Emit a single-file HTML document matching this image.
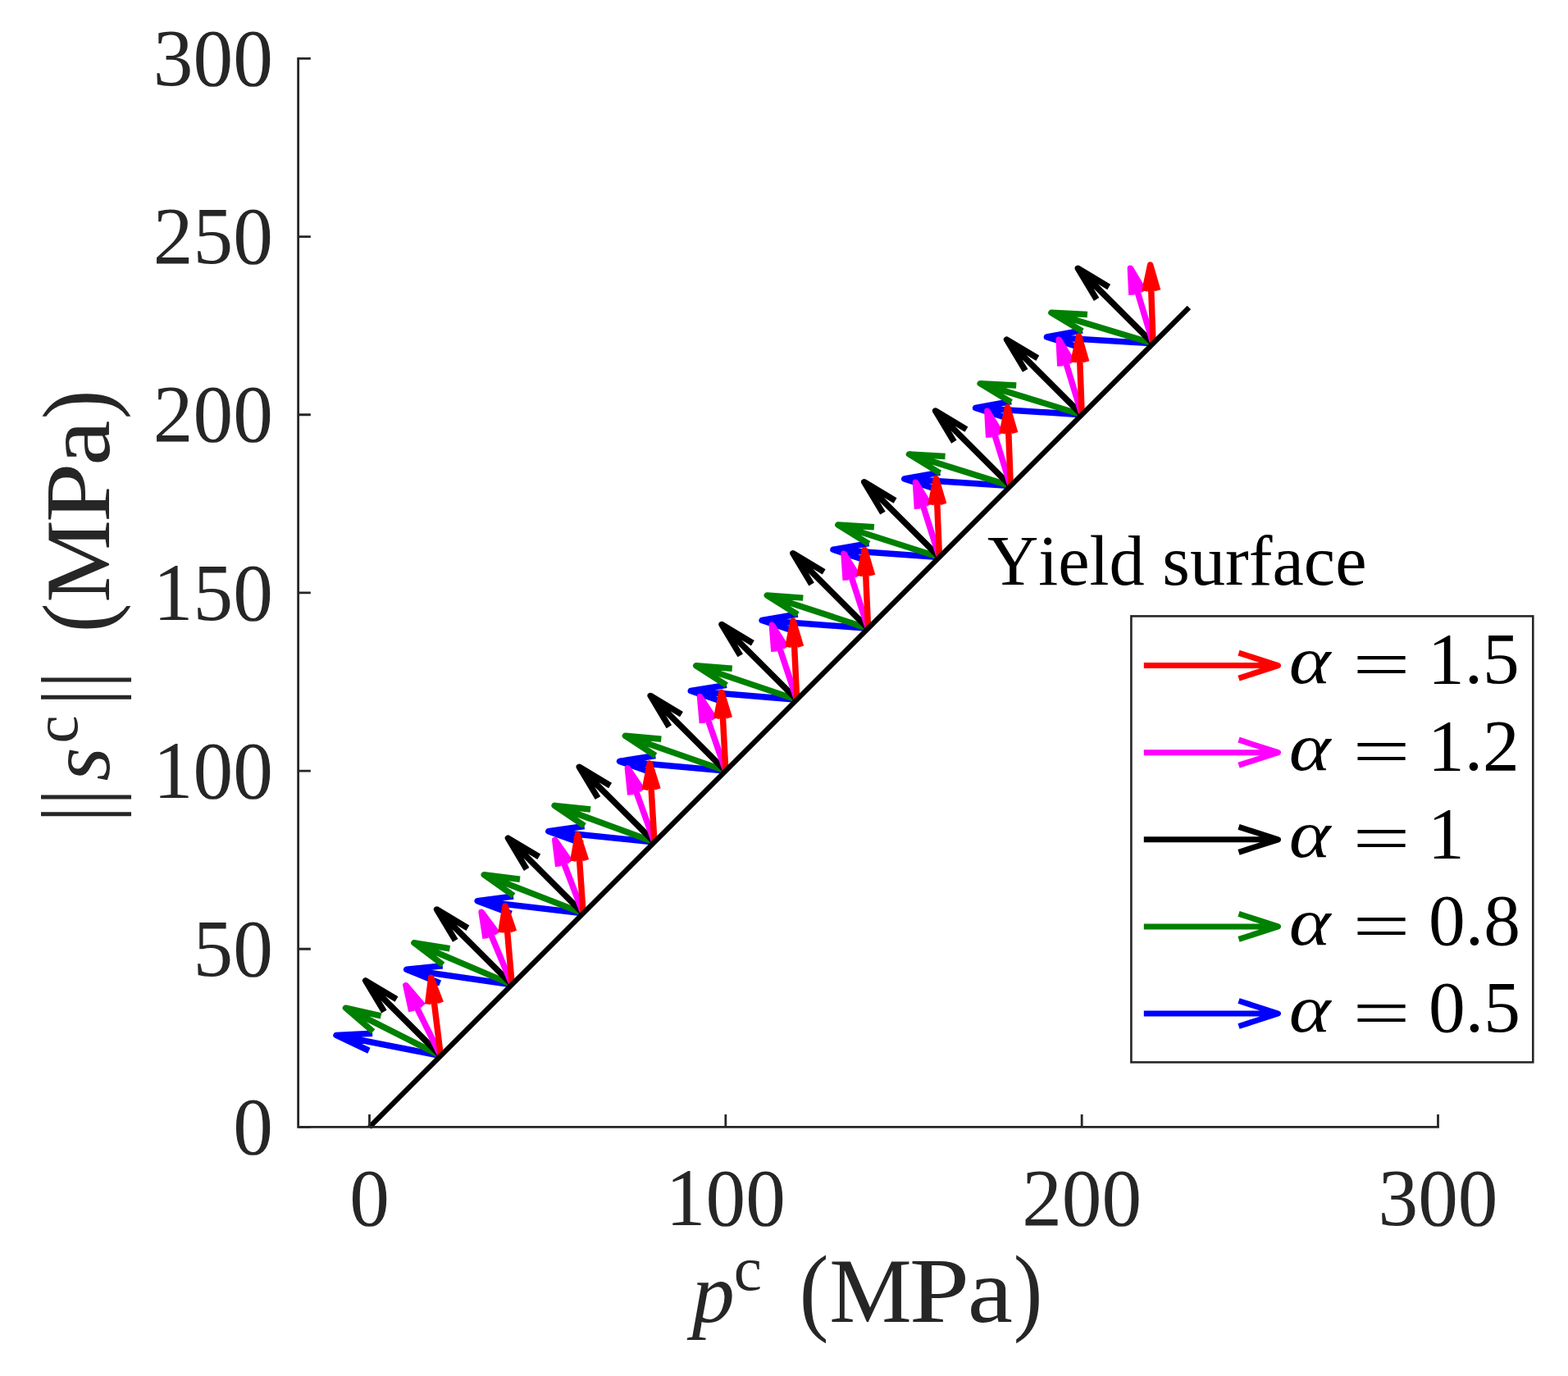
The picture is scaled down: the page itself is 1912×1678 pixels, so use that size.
<!DOCTYPE html>
<html><head><meta charset="utf-8"><title>Yield surface flow directions</title>
<style>html,body{margin:0;padding:0;background:#fff;overflow:hidden}svg{display:block}text{font-kerning:none}</style>
</head><body>
<svg width="1912" height="1678" viewBox="0 0 1912 1678" font-family="'Liberation Serif', serif">
<rect width="1912" height="1678" fill="#fff"/>
<path d="M537.37 1287.53L410.01 1262.47M449.97 1281.25L410.01 1262.47L454.1 1260.23M624.23 1200.67L495.75 1182.24M536.63 1198.92L495.75 1182.24L539.67 1177.72M711.1 1113.8L582.19 1098.64M623.48 1114.28L582.19 1098.64L625.98 1093.01M797.96 1026.94L668.83 1013.8M710.36 1028.79L668.83 1013.8L712.53 1007.48M884.83 940.07L755.56 928.35M797.25 942.88L755.56 928.35L799.19 921.55M971.7 853.2L842.34 842.53M884.14 856.73L842.34 842.53L885.9 835.38M1058.56 766.34L929.14 756.48M971.03 770.41L929.14 756.48L972.66 749.05M1145.43 679.47L1015.96 670.26M1057.92 683.98L1015.96 670.26L1059.44 662.62M1232.29 592.61L1102.78 583.92M1144.81 597.47L1102.78 583.92L1146.24 576.1M1319.16 505.74L1189.62 497.49M1231.69 510.9L1189.62 497.49L1233.05 489.53M1406.03 418.87L1276.47 411M1318.57 424.28L1276.47 411L1319.87 402.91" fill="none" stroke="#0000ff" stroke-width="7.5" stroke-linejoin="round" stroke-linecap="butt"/><path d="M537.37 1287.53L421.55 1229.15M454.95 1257.97L421.55 1229.15L464.59 1238.86M624.23 1200.67L504.94 1149.76M540.11 1176.4L504.94 1149.76L548.51 1156.72M711.1 1113.8L590.23 1066.75M626.24 1092.25L590.23 1066.75L634 1072.3M797.96 1026.94L676.16 982.37M712.68 1007.12L676.16 982.37L720.03 987.03M884.83 940.07L762.39 897.28M799.27 921.5L762.39 897.28L806.33 901.3M971.7 853.2L848.79 811.77M885.93 835.59L848.79 811.77L892.77 815.31M1058.56 766.34L935.3 725.99M972.65 749.47L935.3 725.99L979.3 729.13M1145.43 679.47L1021.88 640M1059.39 663.22L1021.88 640L1065.91 642.84M1232.29 592.61L1108.51 553.88M1146.16 576.87L1108.51 553.88L1152.56 556.44M1319.16 505.74L1195.18 467.64M1232.95 490.44L1195.18 467.64L1239.24 469.98M1406.03 418.87L1281.88 381.31M1319.75 403.95L1281.88 381.31L1325.95 383.47" fill="none" stroke="#008000" stroke-width="7.5" stroke-linejoin="round" stroke-linecap="butt"/><path d="M537.37 1287.53L445.72 1195.89M468.41 1233.69L445.72 1195.89L483.53 1218.57M624.23 1200.67L532.59 1109.03M555.27 1146.83L532.59 1109.03L570.39 1131.71M711.1 1113.8L619.46 1022.16M642.14 1059.96L619.46 1022.16L657.26 1044.84M797.96 1026.94L706.32 935.29M729 973.1L706.32 935.29L744.12 957.98M884.83 940.07L793.19 848.43M815.87 886.23L793.19 848.43L830.99 871.11M971.7 853.2L880.05 761.56M902.74 799.36L880.05 761.56L917.86 784.24M1058.56 766.34L966.92 674.7M989.6 712.5L966.92 674.7L1004.72 697.38M1145.43 679.47L1053.79 587.83M1076.47 625.63L1053.79 587.83L1091.59 610.51M1232.29 592.61L1140.65 500.96M1163.33 538.77L1140.65 500.96L1178.45 523.65M1319.16 505.74L1227.52 414.1M1250.2 451.9L1227.52 414.1L1265.32 436.78M1406.03 418.87L1314.38 327.23M1337.07 365.03L1314.38 327.23L1352.19 349.91" fill="none" stroke="#000000" stroke-width="7.5" stroke-linejoin="round" stroke-linecap="butt"/><path d="M537.37 1287.53L494.91 1201.65M501.84 1233.5L494.91 1201.65L516.01 1226.49M624.23 1200.67L587.16 1112.33M592.11 1144.54L587.16 1112.33L606.68 1138.42M711.1 1113.8L676.78 1024.36M680.72 1056.71L676.78 1024.36L695.48 1051.04M797.96 1026.94L765.41 936.84M768.72 969.26L765.41 936.84L783.59 963.88M884.83 940.07L853.53 849.53M856.39 881.99L853.53 849.53L871.33 876.82M971.7 853.2L941.36 762.34M943.87 794.83L941.36 762.34L958.86 789.82M1058.56 766.34L1028.98 675.22M1031.22 707.73L1028.98 675.22L1046.26 702.85M1145.43 679.47L1116.46 588.16M1118.49 620.68L1116.46 588.16L1133.55 615.9M1232.29 592.61L1203.84 501.13M1205.68 533.66L1203.84 501.13L1220.78 528.97M1319.16 505.74L1291.14 414.13M1292.83 446.67L1291.14 414.13L1307.94 442.05M1406.03 418.87L1378.38 327.15M1379.94 359.7L1378.38 327.15L1395.07 355.14" fill="none" stroke="#ff00ff" stroke-width="7.5" stroke-linejoin="round" stroke-linecap="butt"/><path d="M537.37 1287.53L525.68 1192.25M521.68 1224.66L525.68 1192.25L537.4 1222.73M624.23 1200.67L615.97 1105.02M610.81 1137.27L615.97 1105.02L626.59 1135.91M711.1 1113.8L704.46 1018.03M698.75 1050.18L704.46 1018.03L714.55 1049.09M797.96 1026.94L792.3 931.1M786.26 963.2L792.3 931.1L802.08 962.26M884.83 940.07L879.83 844.2M873.57 876.25L879.83 844.2L889.39 875.42M971.7 853.2L967.17 757.31M960.75 789.33L967.17 757.31L976.58 788.58M1058.56 766.34L1054.39 670.43M1047.86 702.42L1054.39 670.43L1063.68 701.73M1145.43 679.47L1141.54 583.55M1134.91 615.53L1141.54 583.55L1150.73 614.88M1232.29 592.61L1228.62 496.68M1221.92 528.64L1228.62 496.68L1237.75 528.03M1319.16 505.74L1315.66 409.8M1308.9 441.75L1315.66 409.8L1324.73 441.17M1406.03 418.87L1402.67 322.93M1395.86 354.87L1402.67 322.93L1411.69 354.32" fill="none" stroke="#ff0000" stroke-width="7.5" stroke-linejoin="round" stroke-linecap="butt"/>
<path d="M450.5 1374.4L1449.89 375.01" stroke="#000" stroke-width="6.3" fill="none"/>
<path d="M363.63 71.41V1374.4H1753.49" fill="none" stroke="#262626" stroke-width="2.8" stroke-linecap="square"/><path d="M363.63 1374.4h15.2M363.63 1157.24h15.2M363.63 940.07h15.2M363.63 722.91h15.2M363.63 505.74h15.2M363.63 288.58h15.2M363.63 71.41h15.2M450.5 1374.4v-15.4M884.83 1374.4v-15.4M1319.16 1374.4v-15.4M1753.49 1374.4v-15.4" fill="none" stroke="#262626" stroke-width="2.8"/><g font-size="99.5" fill="#262626"><text transform="translate(332.79 1407) scale(0.978 1)" text-anchor="end">0</text><text transform="translate(332.79 1189.84) scale(0.978 1)" text-anchor="end">50</text><text transform="translate(332.79 972.67) scale(0.978 1)" text-anchor="end">100</text><text transform="translate(332.79 755.51) scale(0.978 1)" text-anchor="end">150</text><text transform="translate(332.79 538.34) scale(0.978 1)" text-anchor="end">200</text><text transform="translate(332.79 321.18) scale(0.978 1)" text-anchor="end">250</text><text transform="translate(332.79 104.01) scale(0.978 1)" text-anchor="end">300</text><text transform="translate(450.5 1494) scale(0.978 1)" text-anchor="middle">0</text><text transform="translate(884.83 1494) scale(0.978 1)" text-anchor="middle">100</text><text transform="translate(1319.16 1494) scale(0.978 1)" text-anchor="middle">200</text><text transform="translate(1753.49 1494) scale(0.978 1)" text-anchor="middle">300</text></g>
<g><text x="843.69" y="1611.7" font-size="104" font-style="italic" fill="#262626" >p</text><text x="894.87" y="1573.2" font-size="77"  fill="#262626" >c</text><text transform="translate(974.69 1612.6) scale(0.9 1)" font-size="119"  fill="#262626" >(</text><text x="1011.34" y="1611.7" font-size="113"  fill="#262626" >M</text><text transform="translate(1108.69 1611.7) scale(1.17 1)" font-size="113"  fill="#262626" >P</text><text transform="translate(1179.63 1611.7) scale(1.1 1)" font-size="113"  fill="#262626" >a</text><text transform="translate(1235.85 1612.6) scale(0.9 1)" font-size="119"  fill="#262626" >)</text></g><g transform="translate(132.8 1000) rotate(-90)"><text transform="translate(-3.03 1) scale(0.85 1)" font-size="121"  fill="#262626" >|</text><text transform="translate(17.77 1) scale(0.85 1)" font-size="121"  fill="#262626" >|</text><text x="47.61" y="0" font-size="106" font-style="italic" fill="#262626" >s</text><text x="93.57" y="-38.6" font-size="77"  fill="#262626" >c</text><text transform="translate(139.57 1) scale(0.85 1)" font-size="121"  fill="#262626" >|</text><text transform="translate(160.77 1) scale(0.85 1)" font-size="121"  fill="#262626" >|</text><text transform="translate(228.79 0.9) scale(0.9 1)" font-size="119"  fill="#262626" >(</text><text x="265.34" y="0" font-size="113"  fill="#262626" >M</text><text transform="translate(362.72 0) scale(1.16 1)" font-size="113"  fill="#262626" >P</text><text transform="translate(432.33 0) scale(1.1 1)" font-size="113"  fill="#262626" >a</text><text transform="translate(488.65 0.9) scale(0.9 1)" font-size="119"  fill="#262626" >)</text></g><text x="1204.03" y="712.8" font-size="86.3" fill="#000">Yield surface</text>
<rect x="1379.4" y="751.4" width="489.9" height="544" fill="#fff" stroke="#262626" stroke-width="2.6"/><path d="M1394.8 811.6H1558.5M1510.5 796.1L1558.5 811.6L1510.5 827.1" fill="none" stroke="#ff0000" stroke-width="7" stroke-linejoin="round"/><g fill="#000"><text x="1571.72" y="833.3" font-size="83.2" font-style="italic" transform="translate(1571.72 0) scale(1.16 1) translate(-1571.72 0)">α</text><text x="0" y="838.3" font-size="83.5" transform="translate(1649.17 0) scale(1.498 1)">=</text><text x="1740.94" y="833.3" font-size="89.4">1.5</text></g><path d="M1394.8 917.7H1558.5M1510.5 902.2L1558.5 917.7L1510.5 933.2" fill="none" stroke="#ff00ff" stroke-width="7" stroke-linejoin="round"/><g fill="#000"><text x="1571.72" y="939.4" font-size="83.2" font-style="italic" transform="translate(1571.72 0) scale(1.16 1) translate(-1571.72 0)">α</text><text x="0" y="944.4" font-size="83.5" transform="translate(1649.17 0) scale(1.498 1)">=</text><text x="1740.94" y="939.4" font-size="89.4">1.2</text></g><path d="M1394.8 1023.8H1558.5M1510.5 1008.3L1558.5 1023.8L1510.5 1039.3" fill="none" stroke="#000000" stroke-width="7" stroke-linejoin="round"/><g fill="#000"><text x="1571.72" y="1045.5" font-size="83.2" font-style="italic" transform="translate(1571.72 0) scale(1.16 1) translate(-1571.72 0)">α</text><text x="0" y="1050.5" font-size="83.5" transform="translate(1649.17 0) scale(1.498 1)">=</text><text x="1740.94" y="1045.5" font-size="89.4">1</text></g><path d="M1394.8 1129.9H1558.5M1510.5 1114.4L1558.5 1129.9L1510.5 1145.4" fill="none" stroke="#008000" stroke-width="7" stroke-linejoin="round"/><g fill="#000"><text x="1571.72" y="1151.6" font-size="83.2" font-style="italic" transform="translate(1571.72 0) scale(1.16 1) translate(-1571.72 0)">α</text><text x="0" y="1156.6" font-size="83.5" transform="translate(1649.17 0) scale(1.498 1)">=</text><text x="1742.1" y="1151.6" font-size="89.4">0.8</text></g><path d="M1394.8 1236H1558.5M1510.5 1220.5L1558.5 1236L1510.5 1251.5" fill="none" stroke="#0000ff" stroke-width="7" stroke-linejoin="round"/><g fill="#000"><text x="1571.72" y="1257.7" font-size="83.2" font-style="italic" transform="translate(1571.72 0) scale(1.16 1) translate(-1571.72 0)">α</text><text x="0" y="1262.7" font-size="83.5" transform="translate(1649.17 0) scale(1.498 1)">=</text><text x="1742.1" y="1257.7" font-size="89.4">0.5</text></g>
</svg>
</body></html>
